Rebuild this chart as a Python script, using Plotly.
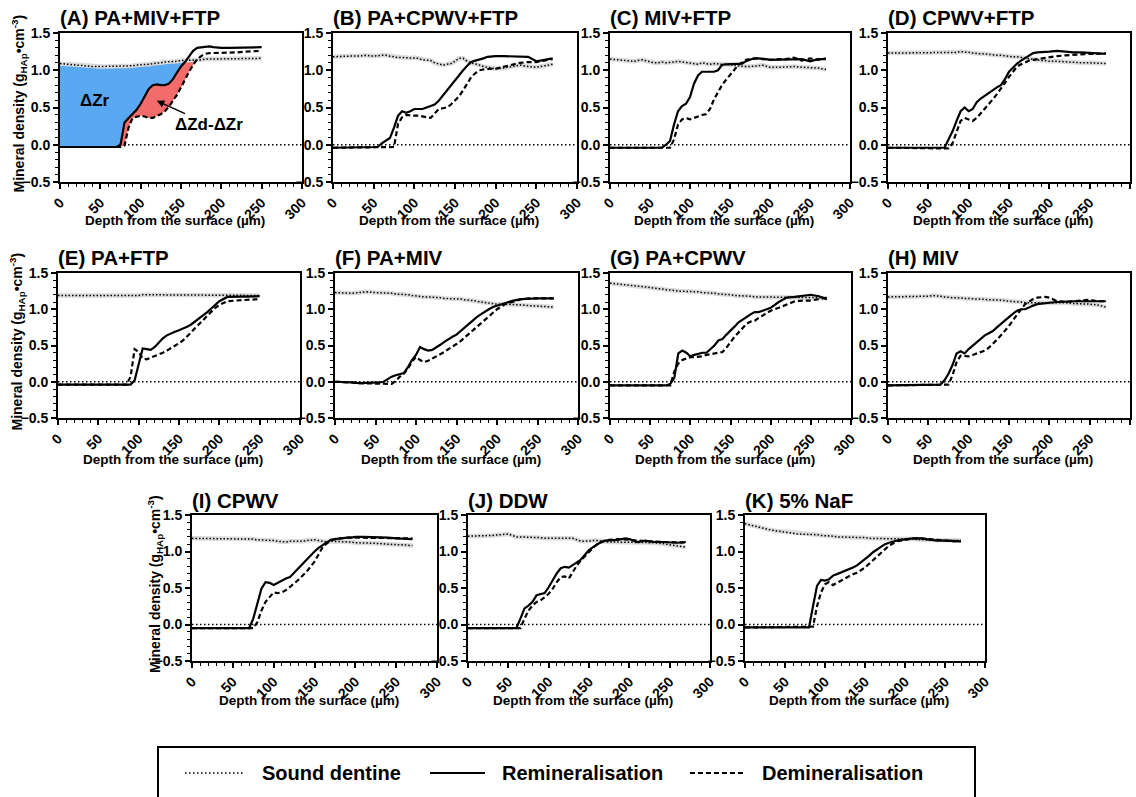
import plotly.graph_objects as go

W, H = 1136, 797
FONT = "Liberation Sans"

# ---------------- data (depth in µm, mineral density in g_HAp/cm^3) ----------------
DEPTH = [0, 10, 20, 30, 40, 50, 55, 60, 65, 70, 75, 80, 85, 90, 95, 100, 105, 110, 115, 120,
         125, 130, 135, 140, 145, 150, 155, 160, 165, 170, 175, 180, 185, 190, 195, 200,
         210, 220, 230, 240, 250, 260, 270]

A_SOUND = [1.09, 1.08, 1.07, 1.06, 1.05, 1.05, 1.05, 1.05, 1.05, 1.05,
           1.05, 1.06, 1.06, 1.06, 1.07, 1.07, 1.08, 1.08, 1.09, 1.09,
           1.10, 1.11, 1.11, 1.12, 1.12, 1.13, 1.13, 1.13, 1.14, 1.14,
           1.14, 1.15, 1.15, 1.15, 1.15, 1.15, 1.16, 1.15, 1.16, 1.16, 1.16]
A_REMIN = [-0.03, -0.03, -0.03, -0.03, -0.03, -0.03, -0.03, -0.03, -0.03, -0.03,
           0.00, 0.30, 0.36, 0.41, 0.47, 0.55, 0.66, 0.75, 0.80, 0.81,
           0.80, 0.80, 0.82, 0.88, 0.97, 1.05, 1.11, 1.19, 1.26, 1.30,
           1.31, 1.32, 1.32, 1.31, 1.30, 1.30, 1.30, 1.30, 1.30, 1.31, 1.31]
A_DEMIN = [-0.03, -0.03, -0.03, -0.03, -0.03, -0.03, -0.03, -0.03, -0.03, -0.03,
           -0.03, -0.01, 0.23, 0.36, 0.38, 0.39, 0.38, 0.36, 0.36, 0.38,
           0.41, 0.45, 0.51, 0.59, 0.67, 0.77, 0.88, 0.98, 1.07, 1.15,
           1.19, 1.22, 1.23, 1.23, 1.23, 1.23, 1.24, 1.24, 1.25, 1.26, 1.26]

B_SOUND = [1.18, 1.19, 1.19, 1.19, 1.20, 1.19, 1.20, 1.20, 1.20, 1.19,
           1.18, 1.17, 1.17, 1.17, 1.16, 1.17, 1.16, 1.14, 1.14, 1.13,
           1.10, 1.08, 1.07, 1.08, 1.09, 1.12, 1.16, 1.16, 1.12, 1.10,
           1.09, 1.07, 1.05, 1.04, 1.03, 1.02, 1.03, 1.05, 1.07, 1.05,
           1.04, 1.06, 1.08]
B_REMIN = [-0.04, -0.04, -0.04, -0.04, -0.04, -0.04, -0.03, 0.02, 0.06, 0.09,
           0.23, 0.39, 0.45, 0.43, 0.45, 0.48, 0.48, 0.48, 0.50, 0.52,
           0.54, 0.59, 0.66, 0.73, 0.80, 0.86, 0.93, 1.00, 1.06, 1.11,
           1.13, 1.14, 1.16, 1.18, 1.19, 1.19, 1.19, 1.19, 1.19, 1.18,
           1.12, 1.14, 1.16]
B_DEMIN = [-0.04, -0.04, -0.04, -0.04, -0.04, -0.04, -0.04, -0.04, -0.04, -0.04,
           -0.03, 0.28, 0.37, 0.40, 0.39, 0.39, 0.39, 0.38, 0.37, 0.36,
           0.42, 0.48, 0.49, 0.50, 0.54, 0.59, 0.65, 0.73, 0.82, 0.91,
           0.96, 1.00, 1.01, 1.02, 1.02, 1.02, 1.05, 1.08, 1.10, 1.11,
           1.11, 1.13, 1.15]

C_SOUND = [1.15, 1.14, 1.13, 1.12, 1.14, 1.11, 1.10, 1.10, 1.11, 1.10,
           1.10, 1.11, 1.12, 1.11, 1.10, 1.09, 1.08, 1.08, 1.10, 1.09,
           1.08, 1.09, 1.08, 1.08, 1.08, 1.08, 1.07, 1.06, 1.05, 1.05,
           1.05, 1.05, 1.06, 1.07, 1.05, 1.04, 1.04, 1.05, 1.05, 1.04,
           1.04, 1.03, 1.01]
C_REMIN = [-0.04, -0.04, -0.04, -0.04, -0.04, -0.04, -0.04, -0.04, -0.04, 0.00,
           0.05, 0.27, 0.45, 0.52, 0.55, 0.64, 0.82, 0.93, 0.98, 0.98,
           0.98, 0.98, 1.00, 1.07, 1.08, 1.08, 1.08, 1.08, 1.09, 1.12,
           1.14, 1.16, 1.16, 1.16, 1.15, 1.14, 1.14, 1.14, 1.15, 1.15,
           1.12, 1.15, 1.15]
C_DEMIN = [-0.04, -0.04, -0.04, -0.04, -0.04, -0.04, -0.04, -0.04, -0.04, -0.04,
           -0.04, 0.07, 0.27, 0.34, 0.36, 0.34, 0.36, 0.39, 0.40, 0.41,
           0.48, 0.61, 0.71, 0.80, 0.87, 0.93, 1.00, 1.07, 1.11, 1.14,
           1.15, 1.16, 1.16, 1.15, 1.14, 1.14, 1.15, 1.15, 1.17, 1.13,
           1.16, 1.14, 1.16]

D_SOUND = [1.23, 1.23, 1.23, 1.23, 1.23, 1.23, 1.23, 1.23, 1.23, 1.23,
           1.24, 1.24, 1.24, 1.25, 1.25, 1.24, 1.23, 1.22, 1.22, 1.22,
           1.21, 1.21, 1.20, 1.20, 1.19, 1.19, 1.18, 1.18, 1.17, 1.16,
           1.16, 1.15, 1.14, 1.13, 1.13, 1.12, 1.12, 1.11, 1.11, 1.10,
           1.10, 1.09, 1.09]
D_REMIN = [-0.04, -0.04, -0.04, -0.04, -0.04, -0.04, -0.04, -0.04, -0.04, -0.04,
           0.07, 0.18, 0.32, 0.45, 0.50, 0.45, 0.48, 0.57, 0.62, 0.66,
           0.70, 0.73, 0.77, 0.80, 0.88, 0.98, 1.04, 1.09, 1.13, 1.16,
           1.20, 1.23, 1.24, 1.24, 1.25, 1.25, 1.26, 1.25, 1.24, 1.24,
           1.23, 1.23, 1.22]
D_DEMIN = [-0.04, -0.04, -0.04, -0.04, -0.04, -0.04, -0.04, -0.04, -0.04, -0.04,
           -0.05, 0.02, 0.18, 0.32, 0.36, 0.34, 0.32, 0.36, 0.42, 0.48,
           0.55, 0.61, 0.68, 0.75, 0.83, 0.91, 0.98, 1.05, 1.08, 1.11,
           1.13, 1.14, 1.15, 1.16, 1.16, 1.17, 1.19, 1.20, 1.21, 1.22,
           1.22, 1.22, 1.23]

E_SOUND = [1.19, 1.19, 1.19, 1.19, 1.18, 1.19, 1.19, 1.19, 1.19, 1.19,
           1.19, 1.19, 1.19, 1.19, 1.19, 1.19, 1.20, 1.20, 1.20, 1.20,
           1.20, 1.20, 1.20, 1.20, 1.20, 1.20, 1.20, 1.20, 1.20, 1.20,
           1.20, 1.20, 1.20, 1.20, 1.20, 1.20, 1.20, 1.20, 1.19, 1.19, 1.19]
E_REMIN = [-0.04, -0.04, -0.04, -0.04, -0.04, -0.04, -0.04, -0.04, -0.04, -0.04,
           -0.04, -0.04, -0.04, -0.04, 0.02, 0.25, 0.46, 0.45, 0.44, 0.48,
           0.54, 0.60, 0.64, 0.67, 0.69, 0.71, 0.73, 0.76, 0.79, 0.83,
           0.87, 0.92, 0.96, 1.01, 1.06, 1.11, 1.17, 1.17, 1.17, 1.18, 1.18]
E_DEMIN = [-0.04, -0.04, -0.04, -0.04, -0.04, -0.04, -0.04, -0.04, -0.04, -0.04,
           -0.04, -0.04, -0.04, 0.07, 0.45, 0.41, 0.32, 0.31, 0.33, 0.35,
           0.37, 0.40, 0.43, 0.46, 0.49, 0.53, 0.57, 0.62, 0.68, 0.74,
           0.79, 0.85, 0.91, 0.97, 1.02, 1.06, 1.11, 1.12, 1.13, 1.13, 1.14]

F_SOUND = [1.23, 1.22, 1.22, 1.23, 1.24, 1.23, 1.23, 1.22, 1.22, 1.22,
           1.21, 1.21, 1.20, 1.20, 1.19, 1.18, 1.18, 1.17, 1.17, 1.17,
           1.16, 1.16, 1.15, 1.15, 1.15, 1.14, 1.14, 1.13, 1.13, 1.12,
           1.11, 1.10, 1.09, 1.08, 1.08, 1.07, 1.07, 1.07, 1.06, 1.05,
           1.04, 1.03, 1.03]
F_REMIN = [0.00, 0.00, -0.01, -0.02, -0.02, -0.01, -0.01, 0.00, 0.04, 0.07,
           0.09, 0.11, 0.12, 0.20, 0.30, 0.37, 0.48, 0.45, 0.43, 0.44,
           0.47, 0.51, 0.55, 0.59, 0.62, 0.65, 0.70, 0.75, 0.79, 0.84,
           0.89, 0.93, 0.97, 1.00, 1.03, 1.05, 1.09, 1.12, 1.14, 1.15,
           1.15, 1.15, 1.15]
F_DEMIN = [0.00, 0.00, -0.01, -0.02, -0.02, -0.02, -0.02, -0.02, -0.03, -0.03,
           0.01, 0.07, 0.11, 0.18, 0.28, 0.34, 0.30, 0.27, 0.29, 0.32,
           0.35, 0.37, 0.41, 0.45, 0.48, 0.52, 0.56, 0.61, 0.65, 0.70,
           0.75, 0.80, 0.85, 0.91, 0.96, 1.00, 1.07, 1.11, 1.14, 1.15,
           1.15, 1.15, 1.15]

G_SOUND = [1.36, 1.35, 1.34, 1.33, 1.31, 1.30, 1.29, 1.29, 1.28, 1.27,
           1.27, 1.26, 1.25, 1.25, 1.24, 1.24, 1.24, 1.24, 1.23, 1.23,
           1.22, 1.22, 1.21, 1.21, 1.20, 1.20, 1.19, 1.19, 1.18, 1.18,
           1.18, 1.17, 1.17, 1.17, 1.17, 1.16, 1.16, 1.16, 1.16, 1.16,
           1.16, 1.16, 1.15]
G_REMIN = [-0.05, -0.05, -0.05, -0.05, -0.05, -0.05, -0.05, -0.05, -0.05, -0.05,
           -0.03, 0.05, 0.39, 0.43, 0.40, 0.35, 0.37, 0.39, 0.40, 0.40,
           0.45, 0.50, 0.57, 0.59, 0.65, 0.70, 0.76, 0.82, 0.86, 0.90,
           0.93, 0.96, 0.96, 0.98, 1.00, 1.02, 1.10, 1.16, 1.17, 1.18,
           1.20, 1.18, 1.14]
G_DEMIN = [-0.05, -0.05, -0.05, -0.05, -0.05, -0.05, -0.05, -0.05, -0.05, -0.05,
           -0.05, 0.14, 0.25, 0.30, 0.32, 0.34, 0.34, 0.34, 0.35, 0.37,
           0.38, 0.39, 0.40, 0.41, 0.47, 0.55, 0.62, 0.68, 0.74, 0.80,
           0.83, 0.84, 0.88, 0.91, 0.95, 0.98, 1.02, 1.07, 1.11, 1.12,
           1.12, 1.14, 1.16]

H_SOUND = [1.17, 1.17, 1.17, 1.17, 1.17, 1.18, 1.19, 1.19, 1.18, 1.17,
           1.16, 1.16, 1.16, 1.15, 1.15, 1.15, 1.14, 1.14, 1.14, 1.13,
           1.13, 1.13, 1.13, 1.12, 1.12, 1.11, 1.11, 1.10, 1.10, 1.09,
           1.09, 1.09, 1.10, 1.10, 1.09, 1.09, 1.09, 1.09, 1.08, 1.08,
           1.07, 1.06, 1.03]
H_REMIN = [-0.05, -0.05, -0.05, -0.05, -0.05, -0.05, -0.05, -0.05, -0.04, 0.02,
           0.11, 0.23, 0.39, 0.42, 0.39, 0.45, 0.50, 0.55, 0.60, 0.64,
           0.67, 0.70, 0.75, 0.80, 0.85, 0.89, 0.94, 0.98, 1.00, 1.00,
           1.03, 1.05, 1.07, 1.08, 1.09, 1.09, 1.10, 1.11, 1.11, 1.11,
           1.11, 1.11, 1.11]
H_DEMIN = [-0.05, -0.05, -0.05, -0.05, -0.05, -0.05, -0.05, -0.05, -0.05, -0.05,
           -0.04, 0.09, 0.27, 0.36, 0.35, 0.35, 0.37, 0.39, 0.41, 0.43,
           0.47, 0.52, 0.58, 0.64, 0.70, 0.77, 0.85, 0.93, 1.00, 1.07,
           1.11, 1.14, 1.16, 1.17, 1.17, 1.16, 1.11, 1.10, 1.11, 1.13,
           1.13, 1.11, 1.11]

I_SOUND = [1.18, 1.18, 1.18, 1.17, 1.18, 1.17, 1.17, 1.17, 1.17, 1.17,
           1.17, 1.16, 1.16, 1.16, 1.16, 1.15, 1.14, 1.13, 1.13, 1.14,
           1.14, 1.13, 1.14, 1.15, 1.16, 1.16, 1.15, 1.14, 1.13, 1.14,
           1.14, 1.14, 1.13, 1.13, 1.13, 1.12, 1.12, 1.12, 1.11, 1.10,
           1.10, 1.09, 1.08]
I_REMIN = [-0.05, -0.05, -0.05, -0.05, -0.05, -0.05, -0.05, -0.05, -0.05, -0.05,
           0.08, 0.28, 0.49, 0.58, 0.57, 0.54, 0.57, 0.61, 0.63, 0.65,
           0.71, 0.77, 0.82, 0.88, 0.94, 1.00, 1.05, 1.09, 1.13, 1.16,
           1.17, 1.18, 1.18, 1.19, 1.19, 1.20, 1.20, 1.20, 1.19, 1.19,
           1.18, 1.18, 1.17]
I_DEMIN = [-0.05, -0.05, -0.05, -0.05, -0.05, -0.05, -0.05, -0.05, -0.05, -0.05,
           -0.05, 0.03, 0.19, 0.31, 0.38, 0.44, 0.43, 0.44, 0.47, 0.51,
           0.56, 0.61, 0.66, 0.72, 0.79, 0.86, 0.96, 1.06, 1.11, 1.15,
           1.17, 1.18, 1.18, 1.19, 1.19, 1.19, 1.19, 1.19, 1.19, 1.18,
           1.18, 1.19, 1.18]

J_SOUND = [1.21, 1.21, 1.22, 1.22, 1.23, 1.24, 1.22, 1.20, 1.20, 1.20,
           1.19, 1.19, 1.19, 1.19, 1.18, 1.18, 1.18, 1.17, 1.17, 1.17,
           1.18, 1.18, 1.16, 1.14, 1.14, 1.15, 1.15, 1.15, 1.14, 1.13,
           1.13, 1.13, 1.13, 1.12, 1.12, 1.12, 1.12, 1.12, 1.12, 1.11,
           1.09, 1.08, 1.06]
J_REMIN = [-0.05, -0.05, -0.05, -0.05, -0.05, -0.05, -0.05, -0.05, 0.08, 0.22,
           0.26, 0.31, 0.40, 0.42, 0.43, 0.51, 0.61, 0.70, 0.77, 0.79,
           0.78, 0.81, 0.85, 0.89, 0.96, 1.02, 1.06, 1.10, 1.13, 1.15,
           1.15, 1.16, 1.16, 1.17, 1.18, 1.17, 1.13, 1.15, 1.13, 1.13,
           1.12, 1.12, 1.13]
J_DEMIN = [-0.05, -0.05, -0.05, -0.05, -0.05, -0.05, -0.05, -0.05, -0.05, 0.08,
           0.19, 0.26, 0.31, 0.33, 0.37, 0.42, 0.49, 0.58, 0.65, 0.66,
           0.63, 0.72, 0.81, 0.88, 0.94, 1.00, 1.05, 1.10, 1.13, 1.15,
           1.16, 1.17, 1.17, 1.17, 1.17, 1.16, 1.15, 1.14, 1.14, 1.13,
           1.13, 1.12, 1.12]

K_SOUND = [1.38, 1.35, 1.32, 1.30, 1.28, 1.27, 1.26, 1.25, 1.24, 1.24,
           1.23, 1.23, 1.23, 1.23, 1.22, 1.22, 1.21, 1.21, 1.20, 1.20,
           1.20, 1.20, 1.20, 1.19, 1.19, 1.19, 1.18, 1.18, 1.18, 1.17,
           1.17, 1.17, 1.17, 1.17, 1.17, 1.17, 1.17, 1.16, 1.16, 1.16,
           1.15, 1.15, 1.15]
K_REMIN = [-0.04, -0.04, -0.04, -0.04, -0.04, -0.04, -0.04, -0.04, -0.04, -0.04,
           -0.04, -0.04, 0.25, 0.53, 0.61, 0.60, 0.62, 0.67, 0.69, 0.71,
           0.73, 0.76, 0.78, 0.81, 0.85, 0.89, 0.94, 0.99, 1.03, 1.07,
           1.10, 1.12, 1.14, 1.15, 1.16, 1.17, 1.18, 1.18, 1.16, 1.15,
           1.15, 1.14, 1.14]
K_DEMIN = [-0.04, -0.04, -0.04, -0.04, -0.04, -0.04, -0.04, -0.04, -0.04, -0.04,
           -0.04, -0.04, -0.03, 0.25, 0.44, 0.55, 0.58, 0.54, 0.57, 0.60,
           0.63, 0.67, 0.69, 0.71, 0.74, 0.78, 0.83, 0.88, 0.93, 0.99,
           1.04, 1.08, 1.11, 1.14, 1.15, 1.16, 1.18, 1.18, 1.17, 1.16,
           1.15, 1.14, 1.15]

TITLES = ["(A) PA+MIV+FTP", "(B) PA+CPWV+FTP", "(C) MIV+FTP", "(D) CPWV+FTP",
          "(E) PA+FTP", "(F) PA+MIV", "(G) PA+CPWV", "(H) MIV",
          "(I) CPWV", "(J) DDW", "(K) 5% NaF"]
SERIES = [(A_SOUND, A_REMIN, A_DEMIN), (B_SOUND, B_REMIN, B_DEMIN),
          (C_SOUND, C_REMIN, C_DEMIN), (D_SOUND, D_REMIN, D_DEMIN),
          (E_SOUND, E_REMIN, E_DEMIN), (F_SOUND, F_REMIN, F_DEMIN),
          (G_SOUND, G_REMIN, G_DEMIN), (H_SOUND, H_REMIN, H_DEMIN),
          (I_SOUND, I_REMIN, I_DEMIN), (J_SOUND, J_REMIN, J_DEMIN),
          (K_SOUND, K_REMIN, K_DEMIN)]
LEGEND_NAMES = ["Sound dentine", "Remineralisation", "Demineralisation"]
X_TITLE = "Depth from the surface (µm)"
Y_TITLE = "Mineral density (g<sub>HAp</sub>•cm<sup>-3</sup>)"
X_TICKS = [0, 50, 100, 150, 200, 250, 300]
Y_TICKS = [-0.5, 0.0, 0.5, 1.0, 1.5]

# ---------------- layout geometry (pixels) ----------------
BOXES = [(60, 302, 33, 182), (333, 577, 33, 182), (610, 850, 33, 182), (888, 1130, 33, 182),
         (58, 300, 273, 418), (335, 578, 273, 418), (610, 851, 273, 418), (888, 1130, 273, 418),
         (192, 437, 515, 661), (468, 710, 515, 661), (745, 985, 515, 661)]
TITLE_Y = {33: 18, 273: 257, 515: 500}
XTITLE_Y = {33: 221, 273: 459, 515: 700}
YTITLE_X = {1: 20, 5: 18, 9: 155}


def fx(p):
    return p / W


def fy(p):
    return 1 - p / H


BOLD = dict(family=FONT, color="black", weight="bold")
fig = go.Figure()
annotations, shapes = [], []

for i, (title, (snd, rem, dem), box) in enumerate(zip(TITLES, SERIES, BOXES)):
    n = i + 1
    depth = DEPTH[:len(snd)]
    assert len(snd) == len(rem) == len(dem), title
    xa = "x" if n == 1 else f"x{n}"
    ya = "y" if n == 1 else f"y{n}"
    x0, x1, y0, y1 = box

    if n == 1:
        low_r = [min(r, s) for r, s in zip(rem, snd)]
        low_d = [min(d, s) for d, s in zip(dem, snd)]
        fig.add_trace(go.Scatter(x=depth, y=snd, mode="lines", line=dict(width=0),
                                 xaxis=xa, yaxis=ya, hoverinfo="skip", showlegend=False))
        fig.add_trace(go.Scatter(x=depth, y=low_r, mode="lines", line=dict(width=0),
                                 fill="tonexty", fillcolor="#58A9F2",
                                 xaxis=xa, yaxis=ya, hoverinfo="skip", showlegend=False))
        fig.add_trace(go.Scatter(x=depth, y=low_d, mode="lines", line=dict(width=0),
                                 fill="tonexty", fillcolor="#F46B6B",
                                 xaxis=xa, yaxis=ya, hoverinfo="skip", showlegend=False))

    # sound dentine band + mean
    fig.add_trace(go.Scatter(x=depth, y=snd, mode="lines",
                             line=dict(color="#dadada", width=4.5),
                             xaxis=xa, yaxis=ya, hoverinfo="skip", showlegend=False))
    fig.add_trace(go.Scatter(x=depth, y=snd, mode="lines", name=LEGEND_NAMES[0],
                             line=dict(color="black", width=1.5, dash="1.5px,2px"),
                             xaxis=xa, yaxis=ya, showlegend=False))
    fig.add_trace(go.Scatter(x=depth, y=rem, mode="lines", name=LEGEND_NAMES[1],
                             line=dict(color="black", width=2.2),
                             xaxis=xa, yaxis=ya, showlegend=False))
    fig.add_trace(go.Scatter(x=depth, y=dem, mode="lines", name=LEGEND_NAMES[2],
                             line=dict(color="black", width=2.2, dash="5px,3px"),
                             xaxis=xa, yaxis=ya, showlegend=False))

    axis_common = dict(showline=True, linecolor="black", linewidth=2, mirror=True,
                       ticks="outside", ticklen=5, tickwidth=1.5, tickcolor="black",
                       showgrid=False, zeroline=False, automargin=False,
                       tickfont=dict(size=14, **BOLD))
    fig.layout["xaxis" if n == 1 else f"xaxis{n}"] = dict(
        domain=[fx(x0), fx(x1)], anchor=ya, range=[0, 300],
        tickvals=X_TICKS, tickangle=-45,
        minor=dict(dtick=10, tick0=0, ticks="outside", ticklen=3, tickwidth=1.2,
                   tickcolor="black"),
        **axis_common)
    fig.layout["yaxis" if n == 1 else f"yaxis{n}"] = dict(
        domain=[fy(y1), fy(y0)], anchor=xa, range=[-0.5, 1.5],
        tickvals=Y_TICKS, tickformat=".1f",
        minor=dict(dtick=0.1, tick0=0, ticks="outside", ticklen=3, tickwidth=1.2,
                   tickcolor="black"),
        **axis_common)

    # zero reference line
    shapes.append(dict(type="line", xref=f"{xa} domain", yref=ya, x0=0, x1=1, y0=0, y1=0,
                       line=dict(color="black", width=1.5, dash="1.5px,2.5px"), layer="below"))

    # panel title
    annotations.append(dict(text=title, xref="paper", yref="paper", x=fx(x0 - 2),
                            y=fy(TITLE_Y[y0]), xanchor="left", yanchor="middle",
                            showarrow=False, font=dict(size=20.5, **BOLD)))
    # x axis title
    annotations.append(dict(text=X_TITLE, xref="paper", yref="paper",
                            x=fx((x0 + x1) / 2 - 6), y=fy(XTITLE_Y[y0]), xanchor="center",
                            yanchor="middle", showarrow=False, font=dict(size=13.5, **BOLD)))
    # y axis title on first panel of each row
    if n in YTITLE_X:
        annotations.append(dict(text=Y_TITLE, xref="paper", yref="paper", x=fx(YTITLE_X[n]),
                                y=fy((y0 + y1) / 2 - 4), xanchor="center", yanchor="middle",
                                textangle=-90, showarrow=False, font=dict(size=14, **BOLD)))

# panel A labels
annotations.append(dict(text="ΔZr", xref="x", yref="y", x=44, y=0.59, showarrow=False,
                        font=dict(size=17, **BOLD)))
annotations.append(dict(text="ΔZd-ΔZr", xref="x", yref="y", x=120, y=0.59,
                        axref="x", ayref="y", ax=185, ay=0.27, showarrow=True,
                        arrowhead=2, arrowsize=1, arrowwidth=1.5, arrowcolor="black",
                        font=dict(size=17, **BOLD)))

# custom legend box
shapes.append(dict(type="rect", xref="paper", yref="paper", x0=fx(158), x1=fx(975),
                   y0=fy(800), y1=fy(747), line=dict(color="black", width=2)))
LEG_Y = 773
samples = [(185, 245, "1.5px,2.5px", 1.5), (430, 485, "solid", 2), (690, 745, "5px,3px", 2)]
text_x = [260, 500, 760]
for (sx0, sx1, dash, lw), tx, name in zip(samples, text_x, LEGEND_NAMES):
    shapes.append(dict(type="line", xref="paper", yref="paper", x0=fx(sx0), x1=fx(sx1),
                       y0=fy(LEG_Y), y1=fy(LEG_Y), line=dict(color="black", width=lw, dash=dash)))
    annotations.append(dict(text=name, xref="paper", yref="paper", x=fx(tx), y=fy(LEG_Y),
                            xanchor="left", yanchor="middle", showarrow=False,
                            font=dict(size=20, **BOLD)))

fig.update_layout(width=W, height=H, margin=dict(l=0, r=0, t=0, b=0),
                  paper_bgcolor="white", plot_bgcolor="white", showlegend=False,
                  annotations=annotations, shapes=shapes, font=dict(family=FONT))

fig.write_html("out.html")
